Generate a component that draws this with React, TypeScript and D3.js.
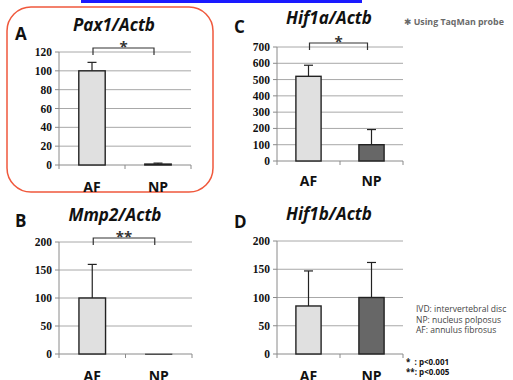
import React from 'react';
import * as d3 from 'd3';

// categories and values
const categories = ['AF', 'NP'];

const pax1Means = [100, 1];
const pax1Errors = [9, 1];
const pax1Ticks = [0, 20, 40, 60, 80, 100, 120];

const hif1aMeans = [520, 100];
const hif1aErrors = [68, 93];
const hif1aTicks = [0, 100, 200, 300, 400, 500, 600, 700];

const mmp2Means = [100, 0];
const mmp2Errors = [60, 0];
const mmp2Ticks = [0, 50, 100, 150, 200];

const hif1bMeans = [85, 100];
const hif1bErrors = [62, 62];
const hif1bTicks = [0, 50, 100, 150, 200];

const barColors = ['#e0e0e0', '#676767'];
const legendLines = ['IVD: intervertebral disc', 'NP: nucleus polposus', 'AF: annulus fibrosus'];
const pLines = ['*  : p<0.001', '**: p<0.005'];

const sans = "'Open Sans', 'Noto Sans', sans-serif";
const serif = "'Liberation Serif', 'DejaVu Serif', serif";

type PanelProps = {
  letter: string;
  letterX: number;
  letterY: number;
  title: string;
  titleX: number;
  titleY: number;
  left: number;
  right: number;
  top: number;
  bottom: number;
  means: number[];
  errors: number[];
  ticks: number[];
  catLabelY: number;
  star?: string;
};

const Panel = (p: PanelProps) => {
  const x = d3.scaleBand().domain(categories).range([p.left, p.right]);
  const y = d3.scaleLinear().domain([0, d3.max(p.ticks) as number]).range([p.bottom, p.top]);
  const bw = x.bandwidth() * 0.4;
  const cx = (c: string) => (x(c) as number) + x.bandwidth() / 2;
  const axisColor = '#8a8a8a';

  return (
    <g>
      <text x={p.letterX} y={p.letterY} fontFamily={sans} fontWeight={700} fontSize={17} fill="#111">
        {p.letter}
      </text>
      <text x={p.titleX} y={p.titleY} textAnchor="middle" fontFamily={sans} fontWeight={700}
        fontStyle="italic" fontSize={17} fill="#111">
        {p.title}
      </text>
      {p.ticks.map(t => (
        <g key={t}>
          {t > 0 && (
            <line x1={p.left} x2={p.right} y1={y(t)} y2={y(t)} stroke="#a8a8a8" strokeWidth={1} />
          )}
          <line x1={p.left - 4} x2={p.left} y1={y(t)} y2={y(t)} stroke={axisColor} strokeWidth={1} />
          <text x={p.left - 7} y={y(t)} dy="0.35em" textAnchor="end" fontFamily={serif}
            fontWeight={700} fontSize={11.5} fill="#111">
            {t}
          </text>
        </g>
      ))}
      <line x1={p.left} x2={p.left} y1={p.top} y2={p.bottom} stroke={axisColor} strokeWidth={1} />
      <line x1={p.left} x2={p.right} y1={p.bottom} y2={p.bottom} stroke={axisColor} strokeWidth={1} />
      {[p.left, p.left + x.bandwidth(), p.right].map((tx, i) => (
        <line key={i} x1={tx} x2={tx} y1={p.bottom} y2={p.bottom + 4} stroke={axisColor} strokeWidth={1} />
      ))}
      {categories.map((c, i) => {
        const m = p.means[i];
        const e = p.errors[i];
        return (
          <g key={c}>
            {e > 0 && (
              <g stroke="#222" strokeWidth={1.2}>
                <line x1={cx(c)} x2={cx(c)} y1={y(m)} y2={y(m + e)} />
                <line x1={cx(c) - 4.5} x2={cx(c) + 4.5} y1={y(m + e)} y2={y(m + e)} />
              </g>
            )}
            <rect x={cx(c) - bw / 2} y={y(m)} width={bw} height={Math.max(p.bottom - y(m), 0.5)}
              fill={barColors[i]} stroke="#222" strokeWidth={m > 0 ? 1.4 : 0.6} />
            <text x={cx(c)} y={p.catLabelY} textAnchor="middle" fontFamily={sans} fontWeight={700}
              fontSize={14} fill="#111">
              {c}
            </text>
          </g>
        );
      })}
      {p.star && (() => {
        const x1 = cx('AF') + 1;
        const x2 = cx('NP') - 4;
        const by = p.top - 4;
        return (
          <g>
            <path d={`M${x1},${by + 7}V${by}H${x2}V${by + 7}`} fill="none" stroke="#333" strokeWidth={1.2} />
            <text x={(x1 + x2) / 2} y={by + 4} textAnchor="middle" fontFamily={sans} fontWeight={700}
              fontSize={15} fill="#333">
              {p.star}
            </text>
          </g>
        );
      })()}
    </g>
  );
};

const App = () => {
  return (
    <svg width={513} height={380} style={{ position: 'absolute', left: 0, top: 0, background: '#fff' }}>
      <line x1={81} x2={362} y1={1.5} y2={1.5} stroke="#1a1aff" strokeWidth={3} />
      <rect x={7} y={7} width={206} height={185} rx={24} ry={24} fill="none" stroke="#f0583c" strokeWidth={1.5} />

      <Panel letter="A" letterX={15} letterY={40} title="Pax1/Actb" titleX={114} titleY={31}
        left={59} right={191} top={52} bottom={165} means={pax1Means} errors={pax1Errors}
        ticks={pax1Ticks} catLabelY={192} star="*" />
      <Panel letter="C" letterX={234} letterY={33} title="Hif1a/Actb" titleX={329} titleY={24}
        left={277} right={403} top={47} bottom={161} means={hif1aMeans} errors={hif1aErrors}
        ticks={hif1aTicks} catLabelY={186} star="*" />
      <Panel letter="B" letterX={15} letterY={227} title="Mmp2/Actb" titleX={115} titleY={221}
        left={59} right={192} top={242} bottom={354} means={mmp2Means} errors={mmp2Errors}
        ticks={mmp2Ticks} catLabelY={381} star="**" />
      <Panel letter="D" letterX={234} letterY={228} title="Hif1b/Actb" titleX={329} titleY={220}
        left={277} right={403} top={241} bottom={354} means={hif1bMeans} errors={hif1bErrors}
        ticks={hif1bTicks} catLabelY={381} />

      <text x={404} y={25} fontFamily={sans} fontWeight={700} fontSize={8.8} fill="#6a6a6a">
        <tspan fontFamily="'DejaVu Sans', sans-serif">✱</tspan> Using TaqMan probe
      </text>
      {legendLines.map((l, i) => (
        <text key={l} x={416} y={312 + i * 10.5} fontFamily={sans} fontSize={8.5} fill="#444">
          {l}
        </text>
      ))}
      {pLines.map((l, i) => (
        <text key={l} x={406} y={365 + i * 10} fontFamily={sans} fontWeight={700} fontSize={8}
          fill="#111" style={{ whiteSpace: 'pre' }}>
          {l}
        </text>
      ))}
    </svg>
  );
};

export default App;
